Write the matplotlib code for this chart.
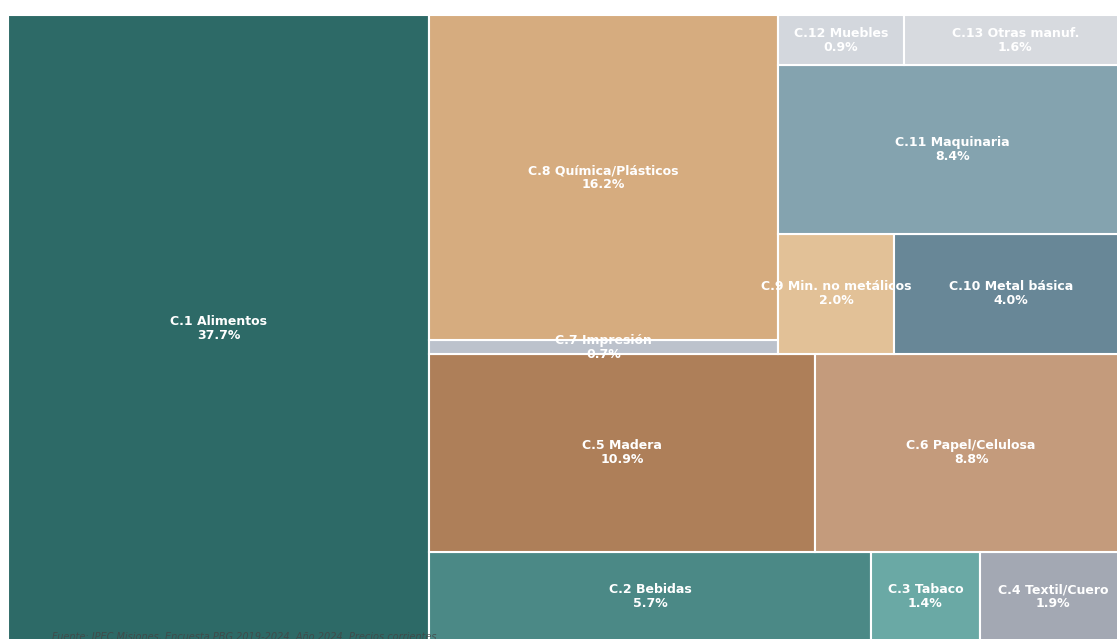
import matplotlib
matplotlib.use("Agg")
import matplotlib.pyplot as plt
from matplotlib.patches import Rectangle

labels = ["C.1 Alimentos", "C.2 Bebidas", "C.3 Tabaco", "C.4 Textil/Cuero",
          "C.5 Madera", "C.6 Papel/Celulosa", "C.7 Impresión", "C.8 Química/Plásticos",
          "C.9 Min. no metálicos", "C.10 Metal básica", "C.11 Maquinaria",
          "C.12 Muebles", "C.13 Otras manuf."]
shares = [37.7, 5.7, 1.4, 1.9, 10.9, 8.8, 0.7, 16.2, 2.0, 4.0, 8.4, 0.9, 1.6]
colors = ["#2d6a67", "#4b8986", "#6aa9a5", "#a3a8b3", "#ae7f59", "#c49b7c",
          "#bcc2cc", "#d6ac7f", "#e2c197", "#688797", "#84a3af", "#d3d7dd", "#d7dadf"]
source = "Fuente: IPEC Misiones, Encuesta PBG 2019-2024. Año 2024. Precios corrientes"


# squarify layout (same algorithm as the squarify package)
def layout(sizes, x, y, dx, dy):
    rects = []
    area = sum(sizes)
    if dx >= dy:
        w = area / dy
        for s in sizes:
            rects.append((x, y, w, s / w))
            y += s / w
    else:
        h = area / dx
        for s in sizes:
            rects.append((x, y, s / h, h))
            x += s / h
    return rects


def leftover(sizes, x, y, dx, dy):
    area = sum(sizes)
    if dx >= dy:
        w = area / dy
        return x + w, y, dx - w, dy
    h = area / dx
    return x, y + h, dx, dy - h


def worst(sizes, x, y, dx, dy):
    return max(max(r[2] / r[3], r[3] / r[2]) for r in layout(sizes, x, y, dx, dy))


def squarify(sizes, x, y, dx, dy):
    if len(sizes) == 0:
        return []
    if len(sizes) == 1:
        return layout(sizes, x, y, dx, dy)
    i = 1
    while i < len(sizes) and worst(sizes[:i], x, y, dx, dy) >= worst(sizes[:i + 1], x, y, dx, dy):
        i += 1
    cur, rest = sizes[:i], sizes[i:]
    lx, ly, ldx, ldy = leftover(cur, x, y, dx, dy)
    return layout(cur, x, y, dx, dy) + squarify(rest, lx, ly, ldx, ldy)


total = sum(shares)
norm = [s * 100 * 100 / total for s in shares]
rects = squarify(norm, 0, 0, 100, 100)

fig = plt.figure(figsize=(11.17, 6.39), dpi=100)
ax = fig.add_axes([8 / 1117, -3 / 639, 1119 / 1117, 627 / 639])
for (x, y, dx, dy), lab, val, col in zip(rects, labels, shares, colors):
    ax.add_patch(Rectangle((x, y), dx, dy, facecolor=col, edgecolor="white", linewidth=1.5))
    ax.text(x + dx / 2, y + dy / 2, f"{lab}\n{val:.1f}%", ha="center", va="center",
            color="white", fontsize=9, fontweight="bold", linespacing=1.1)
ax.set_xlim(0, 100)
ax.set_ylim(0, 100)
ax.axis("off")

fig.text(52 / 1117, 1 - 632 / 639, source, ha="left", va="top", fontsize=7,
         style="italic", color="#444444", alpha=0.8)

fig.savefig("out.png", dpi=100)
